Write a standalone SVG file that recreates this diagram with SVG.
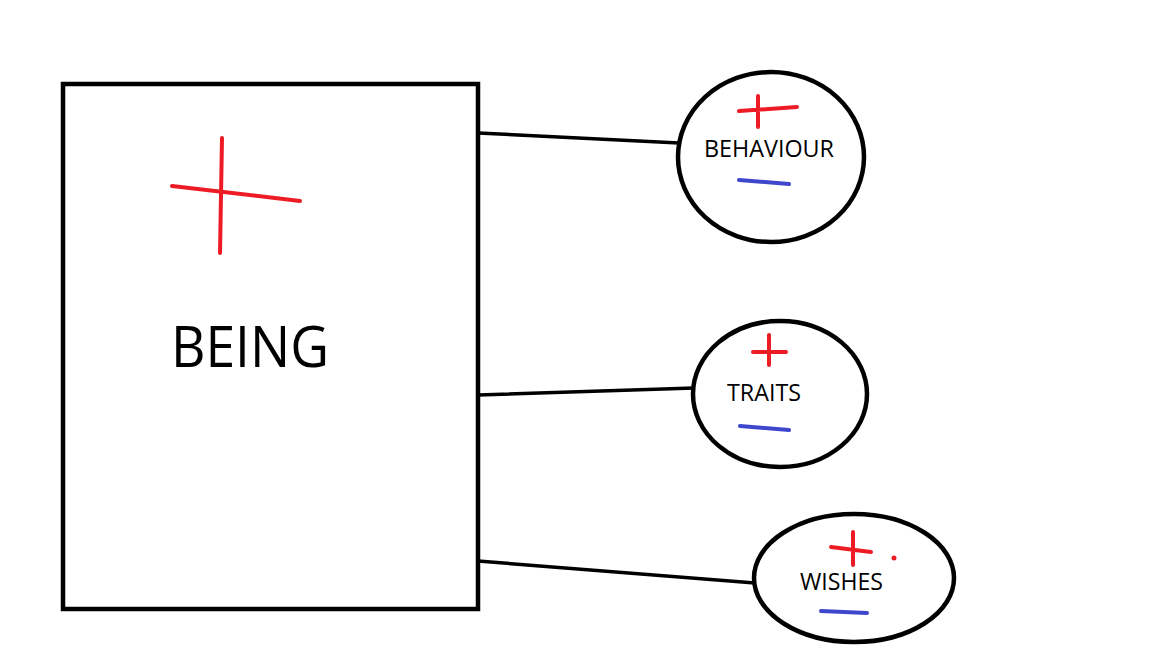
<svg xmlns="http://www.w3.org/2000/svg" width="1152" height="648" viewBox="0 0 1152 648">
<defs>
<style>
.box{fill:#fff;stroke:#000;stroke-width:4.5}
.conn{stroke:#000;stroke-width:3.5;fill:none;stroke-linecap:round}
.plus{stroke:#ed1c24;stroke-width:4;fill:none;stroke-linecap:round}
.minus{stroke:#3f48cc;stroke-width:4;fill:none;stroke-linecap:round}
.lbl{font-family:"Open Sans","Noto Sans","Liberation Sans",sans-serif;fill:#000}
</style>
</defs>
<rect width="1152" height="648" fill="#fff"/>
<g id="connectors">
<line class="conn" x1="478" y1="133" x2="679" y2="143"/>
<line class="conn" x1="478" y1="395" x2="694" y2="388"/>
<line class="conn" x1="478" y1="561" x2="755" y2="583"/>
</g>
<g id="being">
<rect class="box" x="63" y="84" width="415" height="525"/>
<path class="plus" d="M222 138 L220 253 M172 186 L300 201"/>
<text class="lbl" x="171" y="367" font-size="57" textLength="158" lengthAdjust="spacingAndGlyphs">BEING</text>
</g>
<g id="behaviour">
<ellipse class="box" cx="771" cy="157" rx="93" ry="85"/>
<path class="plus" d="M758 96 L758 127 M739 111 L797 107"/>
<text class="lbl" x="704" y="157" font-size="23" textLength="130" lengthAdjust="spacingAndGlyphs">BEHAVIOUR</text>
<line class="minus" x1="739" y1="180" x2="789" y2="184"/>
</g>
<g id="traits">
<ellipse class="box" cx="780" cy="394" rx="87" ry="73"/>
<path class="plus" d="M769 335 L769 365 M753 352 L786 352"/>
<text class="lbl" x="727" y="401" font-size="23" textLength="74" lengthAdjust="spacingAndGlyphs">TRAITS</text>
<line class="minus" x1="740" y1="426" x2="789" y2="430"/>
</g>
<g id="wishes">
<ellipse class="box" cx="854" cy="578" rx="100" ry="64"/>
<path class="plus" d="M853 532 L853 565 M831 547 L871 552"/>
<circle cx="894" cy="558" r="2.5" fill="#ed1c24"/>
<text class="lbl" x="800" y="590" font-size="23" textLength="83" lengthAdjust="spacingAndGlyphs">WISHES</text>
<line class="minus" x1="821" y1="611" x2="867" y2="613"/>
</g>
</svg>
